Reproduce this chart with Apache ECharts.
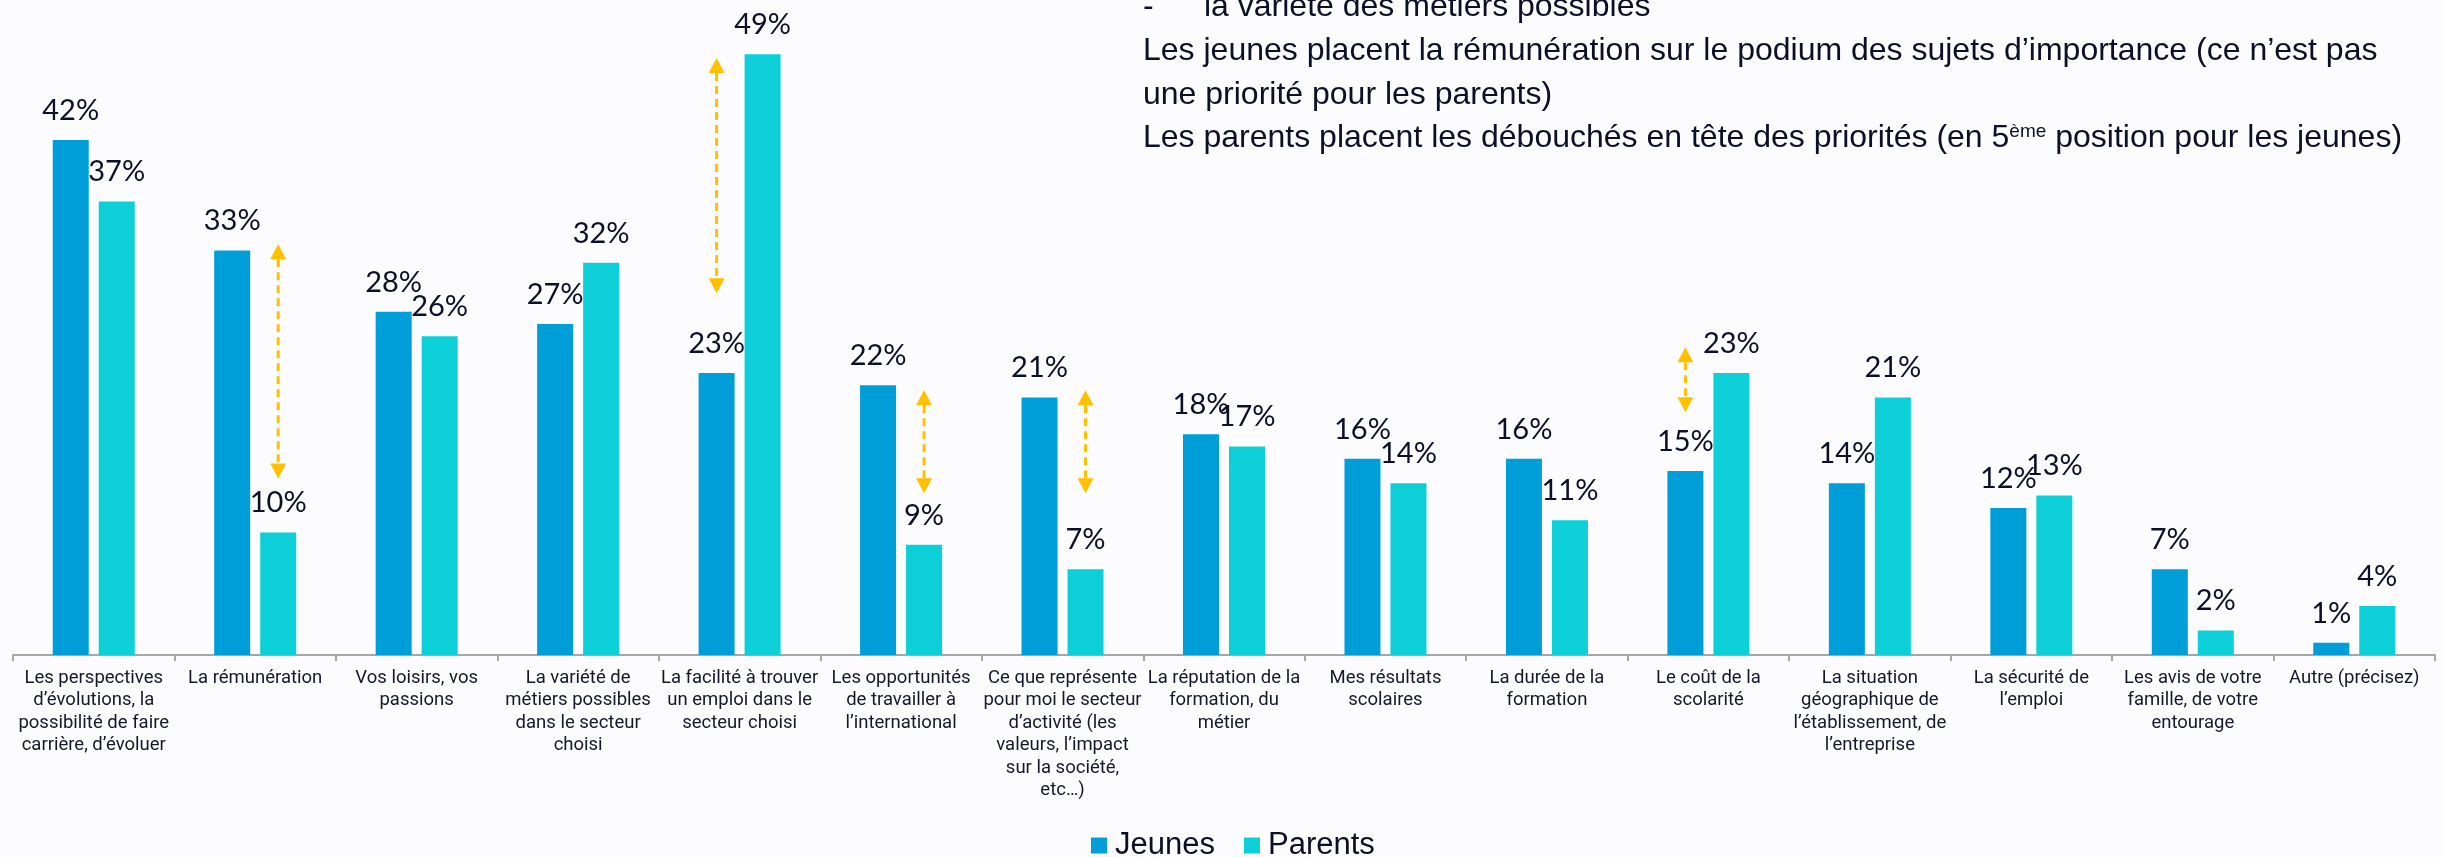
<!DOCTYPE html>
<html>
<head>
<meta charset="utf-8">
<script src="https://cdn.jsdelivr.net/npm/echarts@6/dist/echarts.min.js"></script>
<style>
  html, body { margin: 0; padding: 0; background: #fcfcfe; }
  #chart { width: 2445px; height: 857px; }
</style>
</head>
<body>
<div id="chart"></div>
<script>
  // data
  var categories = [
    'Les perspectives\nd’évolutions, la\npossibilité de faire\ncarrière, d’évoluer',
    'La rémunération',
    'Vos loisirs, vos\npassions',
    'La variété de\nmétiers possibles\ndans le secteur\nchoisi',
    'La facilité à trouver\nun emploi dans le\nsecteur choisi',
    'Les opportunités\nde travailler à\nl’international',
    'Ce que représente\npour moi le secteur\nd’activité (les\nvaleurs, l’impact\nsur la société,\netc…)',
    'La réputation de la\nformation, du\nmétier',
    'Mes résultats\nscolaires',
    'La durée de la\nformation',
    'Le coût de la\nscolarité',
    'La situation\ngéographique de\nl’établissement, de\nl’entreprise',
    'La sécurité de\nl’emploi',
    'Les avis de votre\nfamille, de votre\nentourage',
    'Autre (précisez)'
  ];
  var jeunes  = [42, 33, 28, 27, 23, 22, 21, 18, 16, 16, 15, 14, 12, 7, 1];
  var parents = [37, 10, 26, 32, 49, 9, 7, 17, 14, 11, 23, 21, 13, 2, 4];

  // yellow double arrows: category, top value, bottom value, which bar it sits on
  var arrowCat    = [1, 4, 5, 6, 10];
  var arrowTop    = [33.5, 48.7, 21.6, 21.6, 25.1];
  var arrowBottom = [14.4, 29.5, 13.2, 13.2, 19.8];
  var arrowBar    = ['Parents', 'Jeunes', 'Parents', 'Parents', 'Jeunes'];

  var notes = [
    'Les jeunes placent la rémunération sur le podium des sujets d’importance (ce n’est pas',
    'une priorité pour les parents)',
    'Les parents placent les débouchés en tête des priorités (en 5{sup|ème} position pour les jeunes)'
  ];

  var BAR_W = 36, BAR_GAP = 10;
  var dark = '#0c1027';

  var arrowData = arrowCat.map(function (c, i) {
    return [c, arrowTop[i], arrowBottom[i], arrowBar[i] === 'Parents' ? 1 : -1];
  });

  function renderArrow(params, api) {
    var side = api.value(3);
    var x = api.coord([api.value(0), 0])[0] + side * (BAR_W + BAR_GAP) / 2;
    var yT = api.coord([api.value(0), api.value(1)])[1];
    var yB = api.coord([api.value(0), api.value(2)])[1];
    var hw = 8, hh = 15;
    var col = '#ffc000';
    return {
      type: 'group',
      children: [
        { type: 'line', shape: { x1: x, y1: yT + hh, x2: x, y2: yB - hh },
          style: { stroke: col, lineWidth: 3, lineDash: [8, 5] } },
        { type: 'polygon', shape: { points: [[x, yT], [x - hw, yT + hh], [x + hw, yT + hh]] },
          style: { fill: col } },
        { type: 'polygon', shape: { points: [[x, yB], [x - hw, yB - hh], [x + hw, yB - hh]] },
          style: { fill: col } }
      ]
    };
  }

  var chart = echarts.init(document.getElementById('chart'));

  var valueLabel = {
    show: true,
    position: 'top',
    distance: 15,
    formatter: '{c}%',
    fontFamily: 'Lato',
    fontSize: 29,
    color: dark
  };

  var noteFont = '32px "Liberation Sans"';

  var option = {
    backgroundColor: '#fcfcfe',
    animation: false,
    grid: { left: 13, right: 10, top: 42, bottom: 202 },
    legend: {
      data: ['Jeunes', 'Parents'],
      top: 825,
      left: 1086,
      itemWidth: 16,
      itemHeight: 16,
      itemGap: 29,
      icon: 'rect',
      textStyle: { fontFamily: 'Liberation Sans', fontSize: 31, color: dark, padding: [0, 0, 0, 3] }
    },
    xAxis: {
      type: 'category',
      data: categories,
      axisLine: { lineStyle: { color: '#a6a6a6', width: 2 } },
      axisTick: { show: true, length: 6, lineStyle: { color: '#a6a6a6', width: 2 } },
      axisLabel: {
        interval: 0,
        margin: 12,
        fontFamily: 'Roboto',
        fontSize: 18.5,
        lineHeight: 22.5,
        color: '#15182a',
        align: 'center',
        verticalAlign: 'top'
      }
    },
    yAxis: { type: 'value', min: 0, max: 50, show: false, splitLine: { show: false } },
    series: [
      {
        name: 'Jeunes', type: 'bar', data: jeunes,
        barWidth: BAR_W, barGap: (BAR_GAP / BAR_W * 100) + '%',
        itemStyle: { color: '#009ed8' },
        label: valueLabel
      },
      {
        name: 'Parents', type: 'bar', data: parents,
        barWidth: BAR_W,
        itemStyle: { color: '#0ccfd8' },
        label: valueLabel
      },
      {
        type: 'custom', name: 'arrows', data: arrowData,
        renderItem: renderArrow, z: 5, silent: true
      }
    ],
    graphic: [
      { type: 'text', left: 1143, top: -9,
        style: { text: '-', font: noteFont, fill: dark } },
      { type: 'text', left: 1204, top: -9,
        style: { text: 'la variété des métiers possibles', font: noteFont, fill: dark } },
      { type: 'text', left: 1143, top: 35,
        style: { text: notes[0], font: noteFont, fill: dark } },
      { type: 'text', left: 1143, top: 79,
        style: { text: notes[1], font: noteFont, fill: dark } },
      { type: 'text', left: 1143, top: 122,
        style: {
          text: notes[2], font: noteFont, fill: dark,
          rich: { sup: { fontSize: 19, fontFamily: 'Liberation Sans', fill: dark, verticalAlign: 'top' } }
        } }
    ]
  };

  chart.setOption(option);
</script>
</body>
</html>
